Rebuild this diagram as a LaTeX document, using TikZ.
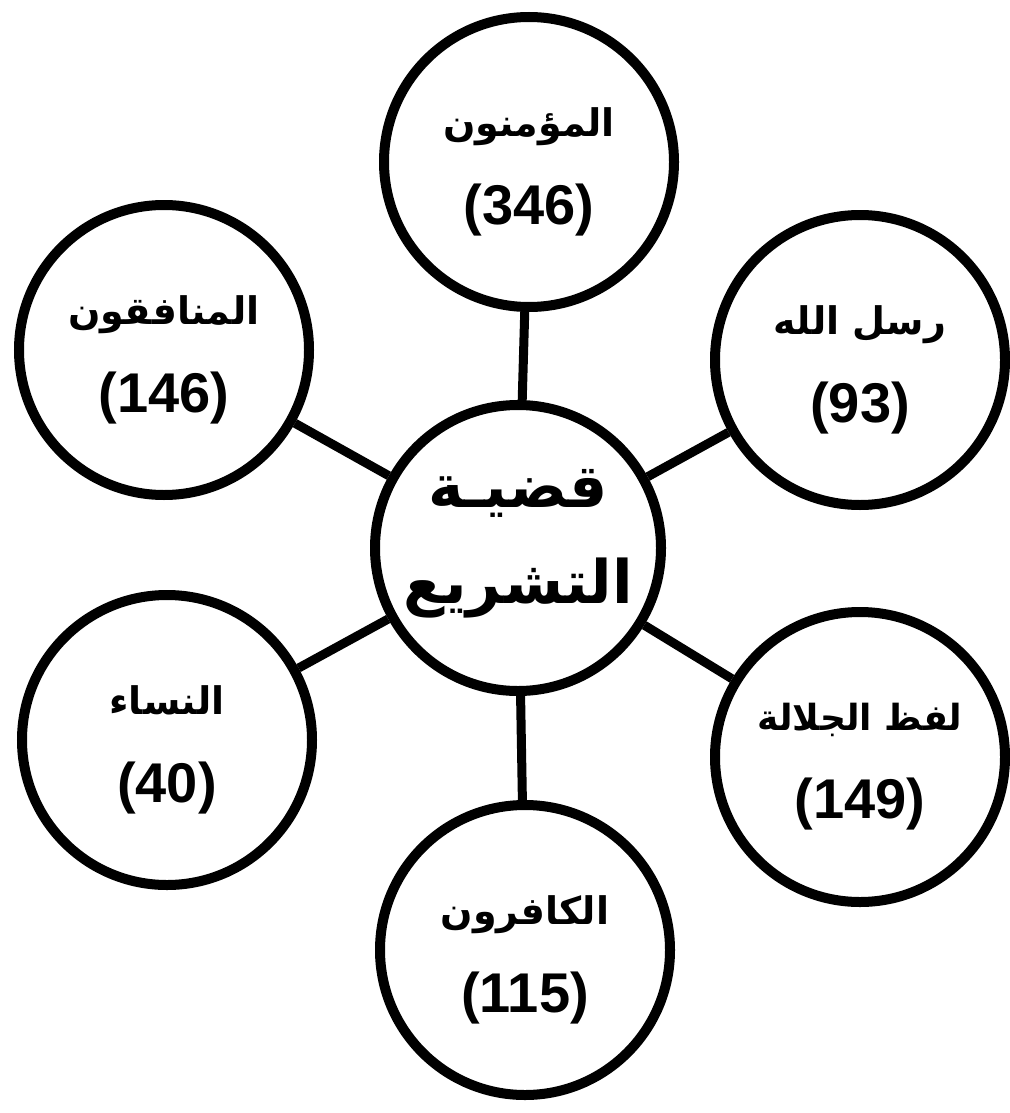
\documentclass[tikz,border=0pt]{standalone}
\usepackage{fontspec}
\setmainfont{Liberation Sans}
\newfontfamily\arabicfont[Script=Arabic]{DejaVu Sans}
\newfontfamily\numfont{Liberation Sans}
\TeXXeTstate=1
\tikzset{
  bubble/.style={circle, draw=black, line width=5pt, minimum size=145pt, inner sep=0pt},
  hub/.style={circle, draw=black, line width=5pt, minimum size=143pt, inner sep=0pt},
  lbl/.style={align=center, inner sep=0pt, font=\numfont\bfseries\fontsize{28pt}{36pt}\selectfont},
  link/.style={line width=4.5pt, draw=black}
}
\newcommand{\ar}[2]{{\arabicfont\bfseries\fontsize{#2}{#2}\selectfont\beginR #1\endR}}
\begin{document}
\begin{tikzpicture}[x=0.5pt,y=-0.5pt]
\useasboundingbox (0,0) rectangle (1010,1113);
\node[hub] (c) at (518,548) {};
\node[lbl] (ct) at ([yshift=2pt]c.center) {\ar{قضيـة}{30pt}\\[12pt]\ar{التشريع}{30pt}};
\node[bubble] (top) at (529,162) {};
\node[bubble] (ul) at (164,350) {};
\node[bubble] (ur) at (860,360) {};
\node[bubble] (ll) at (167,740) {};
\node[bubble] (lr) at (860,757) {};
\node[bubble] (bot) at (525,950) {};
\node[lbl] (topt) at ([yshift=-5pt]top.center) {\ar{المؤمنون}{19pt}\\[8pt](346)};
\node[lbl] (ult) at ([yshift=-5pt]ul.center) {\ar{المنافقون}{19pt}\\[8pt](146)};
\node[lbl] (urt) at ([yshift=-5pt]ur.center) {\ar{رسل الله}{19pt}\\[8pt](93)};
\node[lbl] (llt) at ([yshift=-5pt]ll.center) {\ar{النساء}{19pt}\\[8pt](40)};
\node[lbl] (lrt) at ([yshift=-5pt]lr.center) {\ar{لفظ الجلالة}{18pt}\\[8pt](149)};
\node[lbl] (bott) at ([yshift=-5pt]bot.center) {\ar{الكافرون}{19pt}\\[8pt](115)};
\draw[link] (c) -- (top);
\draw[link] (c) -- (ul);
\draw[link] (c) -- (ur);
\draw[link] (c) -- (ll);
\draw[link] (c) -- (lr);
\draw[link] (c) -- (bot);
\end{tikzpicture}
\end{document}
